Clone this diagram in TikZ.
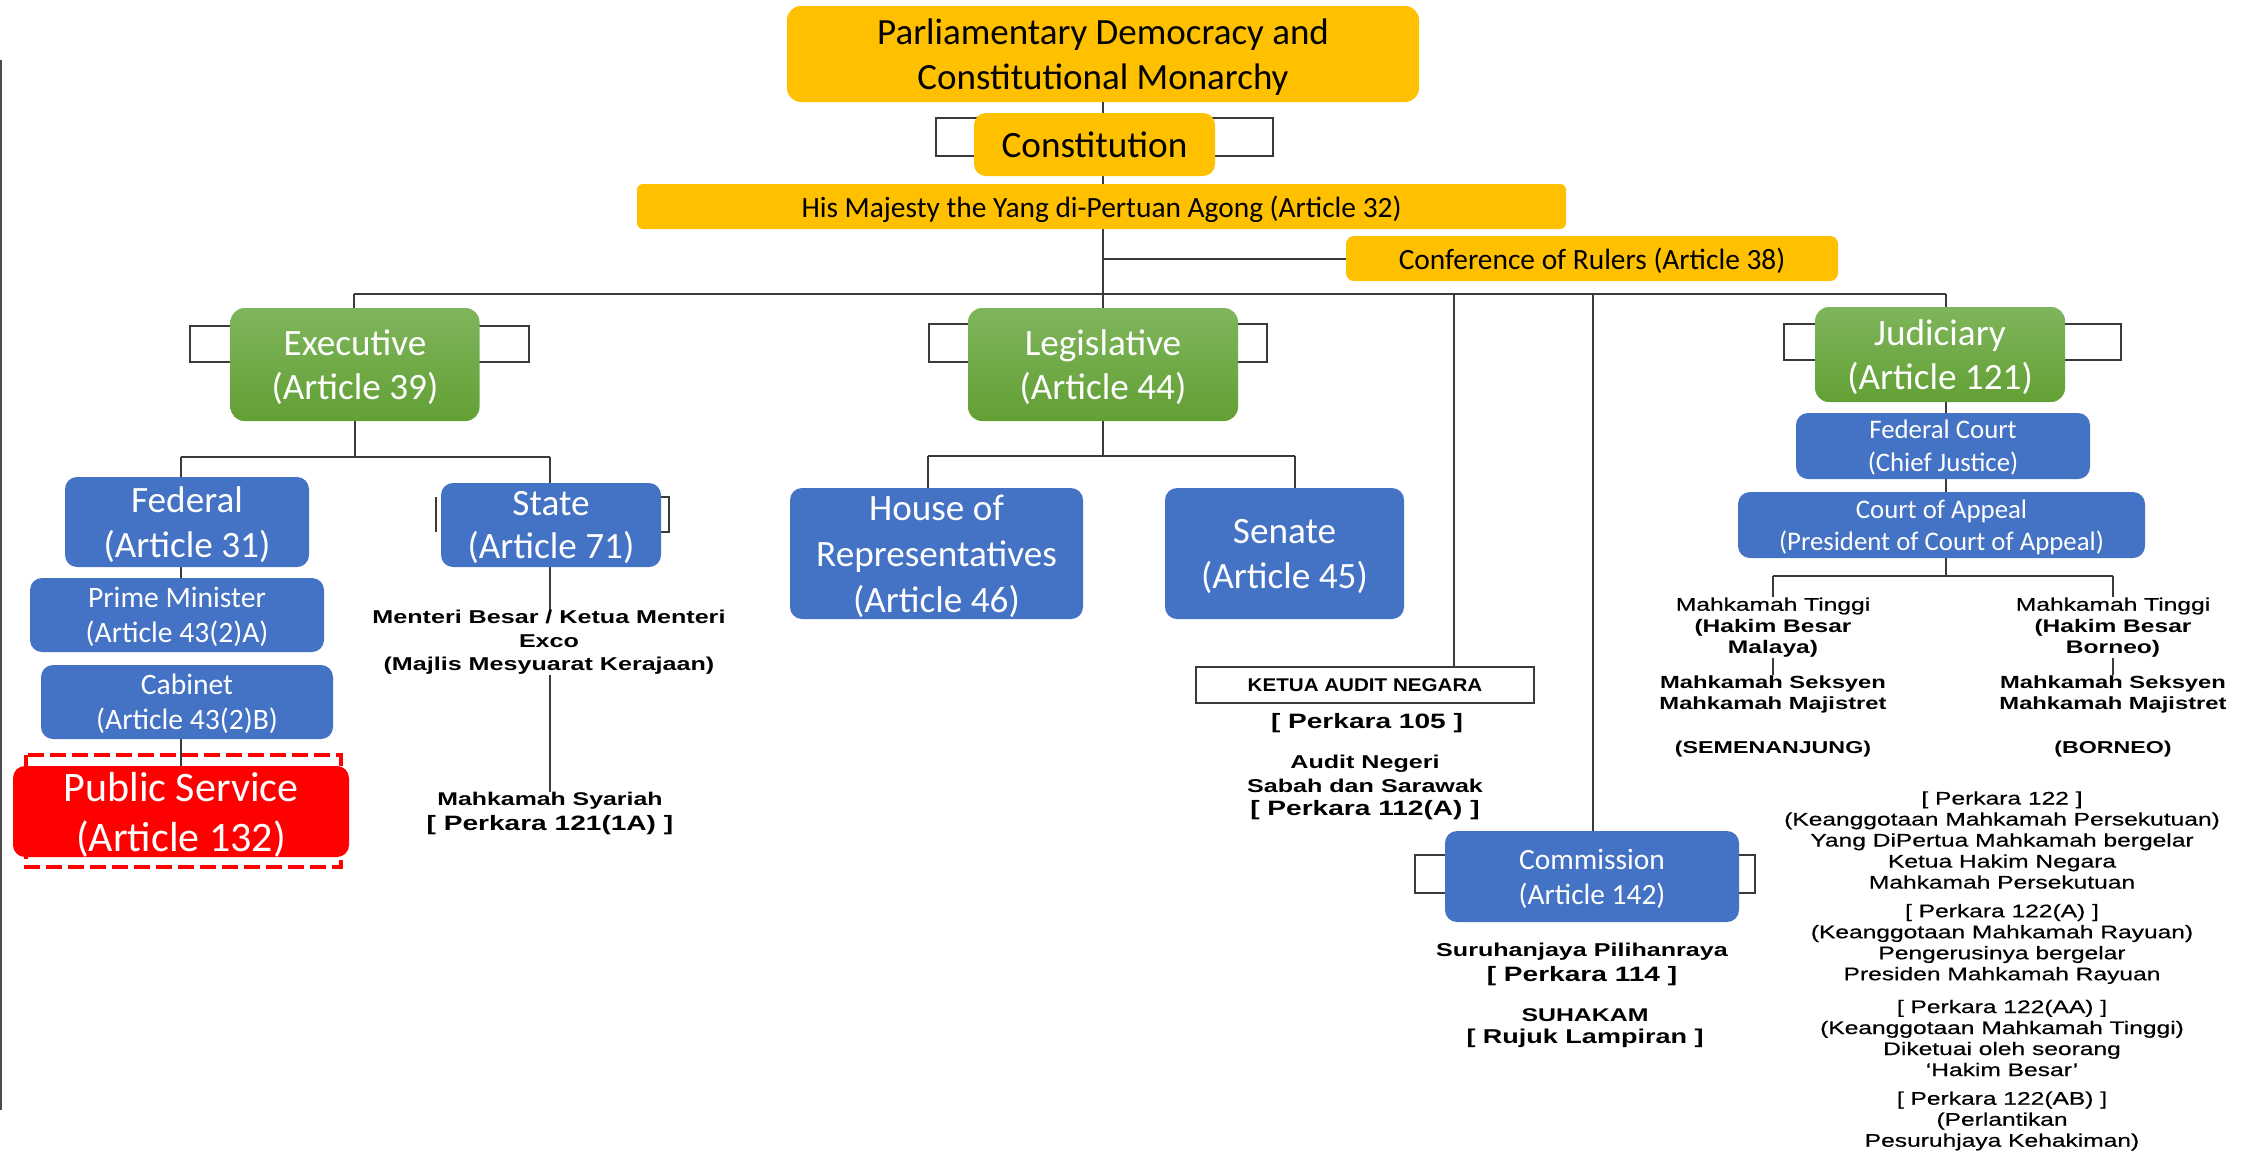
\documentclass[tikz,border=0pt]{standalone}
\usepackage{fontspec}
\setmainfont{Carlito}
\newfontfamily\arw[FakeStretch=1.35]{Liberation Sans}
\newfontfamily\arm[FakeStretch=1.35,FakeBold=0.5]{Liberation Sans}
\newfontfamily\arn[FakeStretch=1.12]{Liberation Sans}
\definecolor{gold}{HTML}{FFC000}
\definecolor{bluebox}{HTML}{4472C4}
\definecolor{gtop}{HTML}{7FB55C}
\definecolor{gbot}{HTML}{62A034}
\definecolor{redbox}{HTML}{FF0000}
\definecolor{ln}{HTML}{3A3A3A}
\pgfdeclarelayer{bg}
\pgfsetlayers{bg,main}
\tikzset{
  box/.style={inner sep=0pt, align=center, rounded corners=6pt, text depth=0pt},
  goldbox/.style={box, fill=gold, text=black},
  greenbox/.style={box, top color=gtop, bottom color=gbot, text=white, rounded corners=7pt, font=\fontsize{18.6}{22.2}\selectfont},
  bluebx/.style={box, fill=bluebox, text=white},
  redbx/.style={box, fill=redbox, text=white},
  brk/.style={draw=ln, line width=1pt},
  conn/.style={draw=ln, line width=1pt},
  mtxt/.style={inner sep=0pt, align=center, text=black},
}
\begin{document}
\begin{tikzpicture}[x=0.5pt,y=-0.5pt]
% background / bounds
\begin{pgfonlayer}{bg}
\fill[white] (0,0) rectangle (2246,1153);
\end{pgfonlayer}
\useasboundingbox (0,0) rectangle (2246,1153);

% ---------- top ----------
\node[goldbox, minimum width=316pt, minimum height=48pt, rounded corners=7pt, font=\fontsize{18.5}{22.5}\selectfont] (top) at (1103,54) {Parliamentary Democracy and\\Constitutional Monarchy};
\node[goldbox, minimum width=120.5pt, minimum height=31.5pt, font=\fontsize{18.6}{20}\selectfont] (const) at (1094.5,144.5) {Constitution};
\node[goldbox, minimum width=464.5pt, minimum height=22.5pt, rounded corners=3pt, font=\fontsize{14.7}{16}\selectfont] (agong) at (1101.5,206.5) {His Majesty the Yang di-Pertuan Agong (Article 32)};
\node[goldbox, minimum width=246pt, minimum height=22.5pt, rounded corners=4pt, font=\fontsize{14.7}{16}\selectfont] (conf) at (1592,258.5) {Conference of Rulers (Article 38)};

% ---------- branches ----------
\node[greenbox, minimum width=124.5pt, minimum height=56.5pt] (exec) at (355,364.5) {Executive\\(Article 39)};
\node[greenbox, minimum width=135pt, minimum height=56.5pt] (leg) at (1103,364.5) {Legislative\\(Article 44)};
\node[greenbox, minimum width=125pt, minimum height=47.5pt] (jud) at (1940,354.5) {Judiciary\\(Article 121)};

% ---------- executive ----------
\node[bluebx, minimum width=122pt, minimum height=45pt, font=\fontsize{18.6}{22.5}\selectfont] (fed) at (187,522) {Federal\\(Article 31)};
\node[bluebx, minimum width=110pt, minimum height=42pt, font=\fontsize{18.6}{21.8}\selectfont] (state) at (551,525) {State\\(Article 71)};
\node[bluebx, minimum width=147pt, minimum height=37pt, font=\fontsize{14.8}{17.5}\selectfont] (pm) at (177,615) {Prime Minister\\(Article 43(2)A)};
\node[bluebx, minimum width=146pt, minimum height=37pt, font=\fontsize{14.8}{17.5}\selectfont] (cab) at (187,702) {Cabinet\\(Article 43(2)B)};
\node[redbx, minimum width=168pt, minimum height=45.5pt, font=\fontsize{21}{25}\selectfont] (ps) at (181,811.5) {Public Service\\(Article 132)};

\node[mtxt, font=\arw\bfseries\fontsize{9.3}{11.75}\selectfont] (ment) at (549,642.5) {Menteri Besar / Ketua Menteri\\Exco\\(Majlis Mesyuarat Kerajaan)};
\node[mtxt, font=\arw\bfseries\fontsize{9.2}{12.5}\selectfont] (syar) at (550,813.5) {Mahkamah Syariah\\{\fontsize{10.4}{12.5}\selectfont [ Perkara 121(1A) ]}};

% ---------- legislative ----------
\node[bluebx, minimum width=146.5pt, minimum height=65.5pt, font=\fontsize{18.6}{23}\selectfont] (house) at (936.5,553.5) {House of\\Representatives\\(Article 46)};
\node[bluebx, minimum width=119.5pt, minimum height=65.5pt, font=\fontsize{18.6}{22.5}\selectfont] (sen) at (1284.5,553.5) {Senate\\(Article 45)};

% ---------- audit ----------
\node[draw=ln, line width=1pt, fill=white, minimum width=169pt, minimum height=18pt, inner sep=0pt, font=\arn\bfseries\fontsize{9.2}{11}\selectfont] (ketua) at (1365,685) {KETUA AUDIT NEGARA};
\node[mtxt, font=\arw\bfseries\fontsize{10.4}{12.5}\selectfont] (p105) at (1367,723) {[ Perkara 105 ]};
\node[mtxt, font=\arw\bfseries\fontsize{9.3}{11.75}\selectfont] (audit) at (1365,787.5) {Audit Negeri\\Sabah dan Sarawak\\{\fontsize{10.4}{12}\selectfont [ Perkara 112(A) ]}};

% ---------- commission ----------
\node[bluebx, minimum width=147pt, minimum height=45.5pt, font=\fontsize{14.7}{17.5}\selectfont] (com) at (1592,876.5) {Commission\\(Article 142)};
\node[mtxt, font=\arw\bfseries\fontsize{9.3}{12.5}\selectfont] (spr) at (1582,964.5) {Suruhanjaya Pilihanraya\\{\fontsize{10.4}{12}\selectfont [ Perkara 114 ]}};
\node[mtxt, font=\arw\bfseries\fontsize{9.2}{11}\selectfont] (suh) at (1585,1028) {SUHAKAM\\{\fontsize{10}{12}\selectfont [ Rujuk Lampiran ]}};

% ---------- judiciary ----------
\node[bluebx, minimum width=147pt, minimum height=33pt, font=\fontsize{13.4}{16.5}\selectfont] (fc) at (1943,446) {Federal Court\\(Chief Justice)};
\node[bluebx, minimum width=203.5pt, minimum height=33pt, font=\fontsize{13.4}{16}\selectfont] (coa) at (1941.5,525) {Court of Appeal\\(President of Court of Appeal)};

\node[mtxt, font=\arm\fontsize{9.1}{10.75}\selectfont] (mtL) at (1773,627.5) {Mahkamah Tinggi\\{\arw\bfseries (Hakim Besar}\\{\arw\bfseries Malaya)}};
\node[mtxt, font=\arw\bfseries\fontsize{8.8}{10.5}\selectfont] (msL) at (1773,694.5) {Mahkamah Seksyen\\Mahkamah Majistret};
\node[mtxt, font=\arw\bfseries\fontsize{8.6}{10}\selectfont] (semL) at (1773,749) {(SEMENANJUNG)};
\node[mtxt, font=\arm\fontsize{9.1}{10.75}\selectfont] (mtR) at (2113,627.5) {Mahkamah Tinggi\\{\arw\bfseries (Hakim Besar}\\{\arw\bfseries Borneo)}};
\node[mtxt, font=\arw\bfseries\fontsize{8.8}{10.5}\selectfont] (msR) at (2113,694.5) {Mahkamah Seksyen\\Mahkamah Majistret};
\node[mtxt, font=\arw\bfseries\fontsize{8.6}{10}\selectfont] (semR) at (2113,749) {(BORNEO)};

\node[mtxt, font=\arm\fontsize{9.1}{10.5}\selectfont] (g1) at (2002,840) {[ Perkara 122 ]\\(Keanggotaan Mahkamah Persekutuan)\\Yang DiPertua Mahkamah bergelar\\Ketua Hakim Negara\\Mahkamah Persekutuan};
\node[mtxt, font=\arm\fontsize{9.1}{10.5}\selectfont] (g2) at (2002,944) {[ Perkara 122(A) ]\\(Keanggotaan Mahkamah Rayuan)\\Pengerusinya bergelar\\Presiden Mahkamah Rayuan};
\node[mtxt, font=\arm\fontsize{9.1}{10.5}\selectfont] (g3) at (2002,1038) {[ Perkara 122(AA) ]\\(Keanggotaan Mahkamah Tinggi)\\Diketuai oleh seorang\\‘Hakim Besar’};
\node[mtxt, font=\arm\fontsize{9.1}{10.5}\selectfont] (g4) at (2002,1121) {[ Perkara 122(AB) ]\\(Perlantikan\\Pesuruhjaya Kehakiman)};

% ---------- coordinates ----------
\coordinate (mL) at (354,294);
\coordinate (mR) at (1946,294);
\coordinate (aT) at (1454,294);
\coordinate (cT) at (1593,294);
\coordinate (eL) at (181,457);
\coordinate (eR) at (550,457);
\coordinate (lL) at (928,456);
\coordinate (lR) at (1295,456);
\coordinate (jL) at (1773,576);
\coordinate (jR) at (2113,576);

% ---------- connectors & brackets (behind) ----------
\begin{pgfonlayer}{bg}
\draw[brk] (936,118) rectangle (1273,156);
\draw[brk] (190,326) rectangle (529,362);
\draw[brk] (929,324) rectangle (1267,362);
\draw[brk] (1784,324) rectangle (2121,360);
\draw[brk] (1415,855) rectangle (1755,893);
\draw[brk] (436,497) -- (436,532);
\draw[brk] (661,497) -- (669,497) -- (669,532) -- (661,532);
\draw[redbox, line width=2pt, dash pattern=on 8pt off 3pt] (26,755) rectangle (341,867);

\draw[conn] (top.south) -- (leg.north);
\draw[conn] (top.south |- conf.west) -- (conf.west);
\draw[conn] (mL) -- (mR);
\draw[conn] (mL) -- (mL |- exec.north);
\draw[conn] (mR) -- (mR |- jud.north);
\draw[conn] (aT) -- (aT |- ketua.north);
\draw[conn] (cT) -- (cT |- com.north);

\draw[conn] (exec.south) -- (exec.south |- eL);
\draw[conn] (eL) -- (eR);
\draw[conn] (eL) -- (eL |- fed.north);
\draw[conn] (eR) -- (eR |- state.north);
\draw[conn] (eL |- fed.south) -- (eL |- pm.north);
\draw[conn] (eL |- cab.south) -- (eL |- ps.north);
\draw[conn] (eR |- state.south) -- (eR |- ment.north);
\draw[conn] (eR |- ment.south) -- (eR |- syar.north);

\draw[conn] (leg.south) -- (leg.south |- lL);
\draw[conn] (lL) -- (lR);
\draw[conn] (lL) -- (lL |- house.north);
\draw[conn] (lR) -- (lR |- sen.north);

\draw[conn] (mR |- jud.south) -- (mR |- fc.north);
\draw[conn] (mR |- fc.south) -- (mR |- coa.north);
\draw[conn] (mR |- coa.south) -- (mR |- jL);
\draw[conn] (jL) -- (jR);
\draw[conn] (jL) -- (jL |- mtL.north);
\draw[conn] (jR) -- (jR |- mtR.north);
\draw[conn] (mtL.south) -- (msL.north);
\draw[conn] (mtR.south) -- (msR.north);
\end{pgfonlayer}

% left edge strip
\draw[gray!60!black, line width=1.2pt] (1.2,60) -- (1.2,1110);
\end{tikzpicture}
\end{document}
